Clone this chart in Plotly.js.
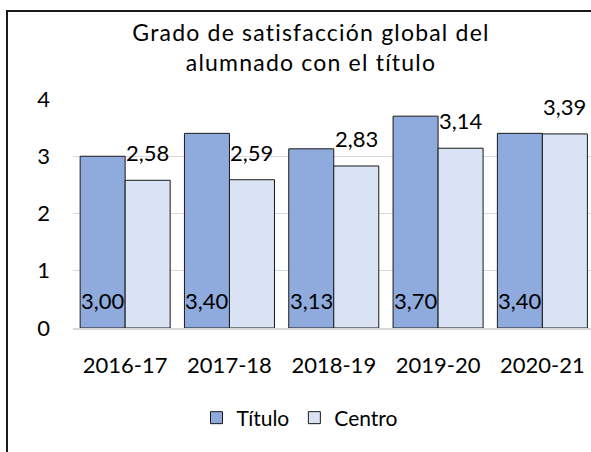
<!DOCTYPE html>
<html>
<head>
<meta charset="utf-8">
<script src="https://cdn.plot.ly/plotly-3.0.1.min.js"></script>
<style>
  html, body { margin: 0; padding: 0; background: #fff; }
  #wrap { position: relative; width: 591px; height: 452px; overflow: hidden; }
  #chart { position: absolute; left: 0; top: 0; width: 591px; height: 452px; }
  #frame { position: absolute; left: 6px; top: 10px; width: 700px; height: 600px;
           border-left: 2px solid #1a1a1a; border-top: 2px solid #1a1a1a; pointer-events: none; }
  #chart .gtitle { letter-spacing: 1.2px; }
</style>
</head>
<body>
<div id="wrap">
  <div id="chart"></div>
  <div id="frame"></div>
</div>
<script>
const categories = ["2016-17", "2017-18", "2018-19", "2019-20", "2020-21"];
const tituloValues = [3.00, 3.40, 3.13, 3.70, 3.40];
const centroValues = [2.58, 2.59, 2.83, 3.14, 3.39];
const tituloLabels = ["3,00", "3,40", "3,13", "3,70", "3,40"];
const centroLabels = ["2,58", "2,59", "2,83", "3,14", "3,39"];
const seriesNames = ["Título", "Centro"];
const yTicks = [0, 1, 2, 3, 4];

const FONT = "Lato, 'Open Sans', sans-serif";
const barShift = 22.5; // px from category centre to each bar centre

const traces = [
  {
    type: "bar", name: seriesNames[0], x: categories, y: tituloValues,
    marker: { color: "#8faadc", line: { color: "#1a1a1a", width: 1 } },
    hoverinfo: "skip"
  },
  {
    type: "bar", name: seriesNames[1], x: categories, y: centroValues,
    marker: { color: "#dae3f3", line: { color: "#1a1a1a", width: 1 } },
    hoverinfo: "skip"
  }
];

const annotations = [];
categories.forEach((c, i) => {
  annotations.push({
    x: i, y: 0, xref: "x", yref: "y", text: tituloLabels[i], showarrow: false,
    xshift: -barShift, yshift: 28, yanchor: "middle", xanchor: "center",
    font: { family: FONT, size: 22, color: "#000" }
  });
  annotations.push({
    x: i, y: centroValues[i], xref: "x", yref: "y", text: centroLabels[i], showarrow: false,
    xshift: barShift, yshift: 27.5, yanchor: "middle", xanchor: "center",
    font: { family: FONT, size: 22, color: "#000" }
  });
});

const layout = {
  width: 591, height: 452,
  margin: { l: 73, r: 0, t: 99, b: 123.5 },
  paper_bgcolor: "rgba(0,0,0,0)", plot_bgcolor: "rgba(0,0,0,0)",
  font: { family: FONT, color: "#000" },
  title: {
    text: "Grado de satisfacción global del<br>alumnado con el título",
    font: { family: FONT, size: 23, color: "#000" },
    x: 311 / 591, xanchor: "center", xref: "container",
    y: 1 - 41 / 452, yanchor: "top", yref: "container"
  },
  barmode: "group", bargap: 0.137, bargroupgap: 0,
  xaxis: {
    type: "category", range: [-0.5, 4.466],
    showgrid: false, showline: true, linecolor: "#d9d9d9", linewidth: 2,
    ticks: "", ticklabelstandoff: 17,
    tickfont: { family: FONT, size: 22, color: "#000" }
  },
  yaxis: {
    range: [0, 4], tickvals: yTicks, ticktext: yTicks.map(String),
    showgrid: true, gridcolor: "#d9d9d9", gridwidth: 1,
    zeroline: false, showline: false, ticks: "", ticklabelstandoff: 22,
    tickfont: { family: FONT, size: 22, color: "#000" }
  },
  showlegend: true,
  legend: {
    orientation: "h", xref: "container", yref: "container",
    x: 300 / 591, xanchor: "center", y: 1 - 418 / 452, yanchor: "middle",
    font: { family: FONT, size: 21, color: "#000" },
    itemclick: false, itemdoubleclick: false
  },
  annotations: annotations
};

Plotly.newPlot("chart", traces, layout, { displayModeBar: false, staticPlot: true });
</script>
</body>
</html>
